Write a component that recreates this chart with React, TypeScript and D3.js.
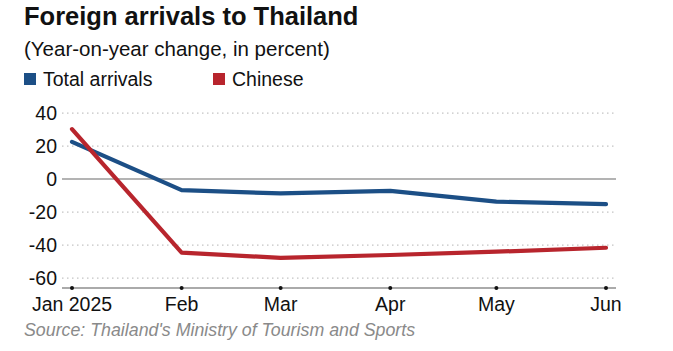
import { useEffect, useRef } from "react"
import * as d3 from "d3"

// Datos
const meses = ["2025-01-01", "2025-02-01", "2025-03-01", "2025-04-01", "2025-05-01", "2025-06-01"]
const etiquetasMes = ["Jan 2025", "Feb", "Mar", "Apr", "May", "Jun"]
const totalLlegadas = [22.6, -6.7, -8.7, -7.1, -13.7, -15.2]
const chinos = [30.3, -44.6, -47.7, -46.0, -44.0, -41.6]
const ticksY = [40, 20, 0, -20, -40, -60]

const FUENTE = "'Liberation Sans', Arial, Helvetica, sans-serif"
const AZUL = "#1c4f86"
const ROJO = "#b8252d"

export function GraficoLlegadas() {
  const svgRef = useRef<SVGSVGElement>(null)

  useEffect(() => {
    if (!svgRef.current) return

    const svg = d3.select(svgRef.current)
    svg.selectAll("*").remove()

    const parse = d3.timeParse("%Y-%m-%d")
    const fechas = meses.map((m) => parse(m) as Date)

    const xScale = d3
      .scaleTime()
      .domain([fechas[0], fechas[fechas.length - 1]])
      .range([72, 606])

    const yScale = d3.scaleLinear().domain([-66, 44]).range([288, 106.5])

    const gridX0 = 62
    const gridX1 = 616

    // Título
    svg
      .append("text")
      .attr("x", 24)
      .attr("y", 25)
      .style("font-family", FUENTE)
      .style("font-weight", "bold")
      .style("font-size", "25.5px")
      .attr("fill", "#111")
      .text("Foreign arrivals to Thailand")

    svg
      .append("text")
      .attr("x", 24)
      .attr("y", 56)
      .style("font-family", FUENTE)
      .style("font-size", "20.5px")
      .attr("fill", "#111")
      .text("(Year-on-year change, in percent)")

    // Leyenda
    const leyenda = [
      { nombre: "Total arrivals", color: AZUL, x: 24 },
      { nombre: "Chinese", color: ROJO, x: 213 },
    ]
    leyenda.forEach((l) => {
      svg.append("rect").attr("x", l.x).attr("y", 73).attr("width", 12).attr("height", 12).attr("fill", l.color)
      svg
        .append("text")
        .attr("x", l.x + 19)
        .attr("y", 86)
        .style("font-family", FUENTE)
        .style("font-size", "19.5px")
        .attr("fill", "#111")
        .text(l.nombre)
    })

    // Líneas de cuadrícula
    ticksY.forEach((t) => {
      svg
        .append("line")
        .attr("x1", gridX0)
        .attr("x2", gridX1)
        .attr("y1", yScale(t))
        .attr("y2", yScale(t))
        .attr("stroke", t === 0 ? "#9a9a9a" : "#c4c4c4")
        .attr("stroke-width", t === 0 ? 1.5 : 1.3)
        .attr("stroke-dasharray", t === 0 ? null : "1.5,3.5")

      svg
        .append("text")
        .attr("x", 57)
        .attr("y", yScale(t))
        .attr("dy", "0.36em")
        .attr("text-anchor", "end")
        .style("font-family", FUENTE)
        .style("font-size", "19.5px")
        .attr("fill", "#111")
        .text(t.toString())
    })

    // Eje inferior
    svg
      .append("line")
      .attr("x1", gridX0)
      .attr("x2", gridX1)
      .attr("y1", yScale(-66))
      .attr("y2", yScale(-66))
      .attr("stroke", "#aaaaaa")
      .attr("stroke-width", 2)

    fechas.forEach((f, i) => {
      svg.append("circle").attr("cx", xScale(f)).attr("cy", yScale(-66)).attr("r", 2).attr("fill", "#111")
      svg
        .append("text")
        .attr("x", xScale(f))
        .attr("y", 311)
        .attr("text-anchor", "middle")
        .style("font-family", FUENTE)
        .style("font-size", "19.5px")
        .attr("fill", "#111")
        .text(etiquetasMes[i])
    })

    // Series
    const linea = d3
      .line<number>()
      .x((_, i) => xScale(fechas[i]))
      .y((d) => yScale(d))

    const series = [
      { valores: totalLlegadas, color: AZUL },
      { valores: chinos, color: ROJO },
    ]
    series.forEach((s) => {
      svg
        .append("path")
        .datum(s.valores)
        .attr("d", linea)
        .attr("fill", "none")
        .attr("stroke", s.color)
        .attr("stroke-width", 4.2)
        .attr("stroke-linecap", "round")
        .attr("stroke-linejoin", "round")
    })

    // Fuente
    svg
      .append("text")
      .attr("x", 24)
      .attr("y", 336)
      .style("font-family", FUENTE)
      .style("font-style", "italic")
      .style("font-size", "17.8px")
      .attr("fill", "#8a8a8a")
      .text("Source: Thailand's Ministry of Tourism and Sports")
  }, [])

  return <svg ref={svgRef} width={673} height={351} style={{ display: "block", background: "#fff" }} />
}

export default function App() {
  return (
    <div style={{ position: "fixed", top: 0, left: 0 }}>
      <GraficoLlegadas />
    </div>
  )
}
